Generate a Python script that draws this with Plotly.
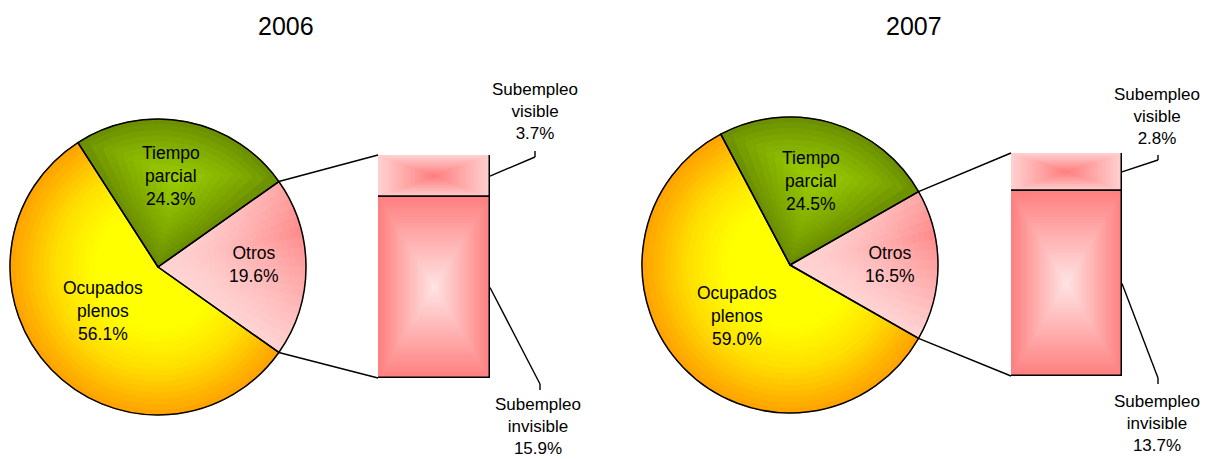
import math
import plotly.graph_objects as go

W, H = 1207, 459

# ---------------- data ----------------
years = ["2006", "2007"]
pie_labels = ["Otros", "Ocupados plenos", "Tiempo parcial"]
tiempo_parcial = [24.3, 24.5]
otros = [19.6, 16.5]
ocupados_plenos = [56.1, 59.0]
bar_labels = ["Subempleo visible", "Subempleo invisible"]
subempleo_visible = [3.7, 2.8]
subempleo_invisible = [15.9, 13.7]

# ---------------- layout constants (pixels) ----------------
LAYOUT = [
    dict(cx=158, cy=267, R=148, bar=(378, 490, 155, 378), title=(286, 26),
         lab_tp=(171, 176), lab_ot=(254, 264), lab_oc=(103, 311),
         lab_vis=(535, 111), lab_inv=(538, 426),
         elb_vis=((535, 157), (535, 151)), elb_inv=((540, 384), (540, 390))),
    dict(cx=790, cy=265, R=148, bar=(1011, 1122, 153, 376), title=(914, 26),
         lab_tp=(811, 181), lab_ot=(890, 264), lab_oc=(737, 316),
         lab_vis=(1157, 116), lab_inv=(1157, 423),
         elb_vis=((1158, 160), (1158, 155)), elb_inv=((1158, 378), (1158, 384))),
]

FONT = "Liberation Sans, Arial, sans-serif"


def px(x):
    return x / W


def py(y):
    return 1 - y / H


def hex2rgb(h):
    h = h.lstrip('#')
    return tuple(int(h[i:i + 2], 16) for i in (0, 2, 4))


def lerp(c1, c2, t):
    a, b = hex2rgb(c1), hex2rgb(c2)
    t = max(0.0, min(1.0, t))
    return 'rgb(%d,%d,%d)' % tuple(round(a[i] + (b[i] - a[i]) * t) for i in range(3))


def stops(st, t):
    for (t0, c0), (t1, c1) in zip(st[:-1], st[1:]):
        if t <= t1:
            return lerp(c0, c1, (t - t0) / (t1 - t0) if t1 > t0 else 0)
    return lerp(st[-1][1], st[-1][1], 0)


OC_STOPS = [(0.0, '#FFFF00'), (0.42, '#FFFF00'), (0.68, '#FFE000'), (0.86, '#FFBC00'), (1.0, '#FFA000')]
TP_EDGE, TP_CENTER = '#688A00', '#9ACD00'
OT_LIGHT, OT_DARK = '#FFD4D4', '#FF8A8A'
INV_EDGE, INV_CENTER = '#FF8080', '#FFE2E2'
VIS_EDGE, VIS_CENTER = '#FFD0D0', '#FF7F7F'


def cell_color(kind, t, f, ang):
    if kind == 'oc':
        return stops(OC_STOPS, t)
    if kind == 'tp':
        a = math.radians(ang)
        phi = min(f, 1 - f) * a
        d_edge = t * math.sin(phi) if phi < math.pi / 2 else t
        d = min(d_edge, 1 - t)
        dmax = math.sin(a / 2) / (1 + math.sin(a / 2))
        q = min(1.0, d / dmax)
        return lerp(TP_EDGE, TP_CENTER, q ** 0.8)
    # otros
    s_up = 1 - 2 * f
    w = t ** 1.5 * max(0.0, 1 - abs(s_up - 0.4) / 1.4)
    return lerp(OT_LIGHT, OT_DARK, w)


fig = go.Figure()
shapes = []
annotations = []

for i, L in enumerate(LAYOUT):
    cx, cy, R = L['cx'], L['cy'], L['R']
    vals = [otros[i], ocupados_plenos[i], tiempo_parcial[i]]  # clockwise order
    kinds = ['ot', 'oc', 'tp']
    total = sum(vals)
    rot = 90 - otros[i] / total * 180

    sub_vals, sub_info = [], []
    for v, kd in zip(vals, kinds):
        ang = v / total * 360
        m = max(4, int(round(ang / 4)))
        for j in range(m):
            sub_vals.append(v / m)
            sub_info.append((kd, (j + 0.5) / m, ang))

    NR = 26
    for k in range(NR):
        s = 1 - k / NR
        t = s - 0.5 / NR
        cols = [cell_color(kd, t, f, ang) for kd, f, ang in sub_info]
        r = R * s
        fig.add_trace(go.Pie(
            values=sub_vals, sort=False, direction='clockwise', rotation=rot,
            marker=dict(colors=cols, line=dict(color=cols, width=1)),
            textinfo='none', hoverinfo='skip', showlegend=False,
            domain=dict(x=[px(cx - r), px(cx + r)], y=[py(cy + r), py(cy - r)])))
    # outline
    fig.add_trace(go.Pie(
        values=vals, labels=pie_labels, sort=False, direction='clockwise', rotation=rot,
        marker=dict(colors=['rgba(0,0,0,0)'] * 3, line=dict(color='black', width=1.5)),
        textinfo='none', showlegend=False, hoverinfo='label+percent',
        domain=dict(x=[px(cx - R), px(cx + R)], y=[py(cy + R), py(cy - R)])))

    # ---- bar of pie ----
    x0, x1, y0, y1 = L['bar']
    vis, inv = subempleo_visible[i], subempleo_invisible[i]
    btot = vis + inv
    xa = 'x' if i == 0 else 'x2'
    ya = 'y' if i == 0 else 'y2'
    NB = 32
    for k in range(NB):
        s = 1 - k / NB
        q = k / (NB - 1)
        fig.add_trace(go.Bar(x=[0], y=[inv * s], base=[inv * (1 - s) / 2], width=[s],
                             marker=dict(color=lerp(INV_EDGE, INV_CENTER, q), line=dict(width=0)),
                             xaxis=xa, yaxis=ya, hoverinfo='skip', showlegend=False))
        fig.add_trace(go.Bar(x=[0], y=[vis * s], base=[inv + vis * (1 - s) / 2], width=[s],
                             marker=dict(color=lerp(VIS_EDGE, VIS_CENTER, q), line=dict(width=0)),
                             xaxis=xa, yaxis=ya, hoverinfo='skip', showlegend=False))
    for b, h, nm in [(0, inv, bar_labels[1]), (inv, vis, bar_labels[0])]:
        fig.add_trace(go.Bar(x=[0], y=[h], base=[b], width=[1], name=nm,
                             marker=dict(color='rgba(0,0,0,0)', line=dict(color='black', width=1.5)),
                             xaxis=xa, yaxis=ya, cliponaxis=False, showlegend=False,
                             hovertemplate=nm + ': %{y}%<extra></extra>'))

    axis_common = dict(visible=False, fixedrange=True, showgrid=False, zeroline=False)
    fig.update_layout(**{
        ('xaxis' if i == 0 else 'xaxis2'): dict(domain=[px(x0), px(x1)], range=[-0.5, 0.5],
                                                anchor=ya, **axis_common),
        ('yaxis' if i == 0 else 'yaxis2'): dict(domain=[py(y1), py(y0)], range=[0, btot],
                                                anchor=xa, **axis_common),
    })

    # connectors pie -> bar
    half = math.radians(otros[i] / total * 180)
    up = (cx + R * math.cos(half), cy - R * math.sin(half))
    lo = (cx + R * math.cos(half), cy + R * math.sin(half))
    line_style = dict(color='black', width=1.5)
    shapes.append(dict(type='line', xref='paper', yref='paper', x0=px(up[0]), y0=py(up[1]),
                       x1=px(x0), y1=py(y0), line=line_style))
    shapes.append(dict(type='line', xref='paper', yref='paper', x0=px(lo[0]), y0=py(lo[1]),
                       x1=px(x0), y1=py(y1), line=line_style))

    # leaders from bar segment middles
    def seg_mid(b, h):
        return y1 - (b + h / 2) / btot * (y1 - y0)

    for (b, h), elb in [((inv, vis), L['elb_vis']), ((0, inv), L['elb_inv'])]:
        ys = seg_mid(b, h)
        (ex, ey), (fx, fy) = elb
        shapes.append(dict(type='line', xref='paper', yref='paper', x0=px(x1), y0=py(ys),
                           x1=px(ex), y1=py(ey), line=dict(color='black', width=1.4)))
        shapes.append(dict(type='line', xref='paper', yref='paper', x0=px(ex), y0=py(ey),
                           x1=px(fx), y1=py(fy), line=dict(color='black', width=1.4)))

    # texts
    def ann(pos, text, size):
        annotations.append(dict(x=px(pos[0]), y=py(pos[1]), xref='paper', yref='paper',
                                text=text, showarrow=False, xanchor='center', yanchor='middle',
                                font=dict(size=size, color='black', family=FONT)))

    ann(L['title'], years[i], 25)
    ann(L['lab_tp'], "Tiempo<br>parcial<br>%.1f%%" % tiempo_parcial[i], 17.5)
    ann(L['lab_ot'], "Otros<br>%.1f%%" % otros[i], 17.5)
    ann(L['lab_oc'], "Ocupados<br>plenos<br>%.1f%%" % ocupados_plenos[i], 17.5)
    ann(L['lab_vis'], "Subempleo<br>visible<br>%.1f%%" % subempleo_visible[i], 17)
    ann(L['lab_inv'], "Subempleo<br>invisible<br>%.1f%%" % subempleo_invisible[i], 17)

fig.update_layout(
    width=W, height=H, autosize=False,
    margin=dict(l=0, r=0, t=0, b=0),
    paper_bgcolor='white', plot_bgcolor='rgba(0,0,0,0)',
    barmode='overlay', bargap=0,
    shapes=shapes, annotations=annotations,
    font=dict(family=FONT, color='black'),
    showlegend=False,
)

fig.write_html("out.html", config={'displayModeBar': False},
               post_script="document.body.style.margin='0';")
